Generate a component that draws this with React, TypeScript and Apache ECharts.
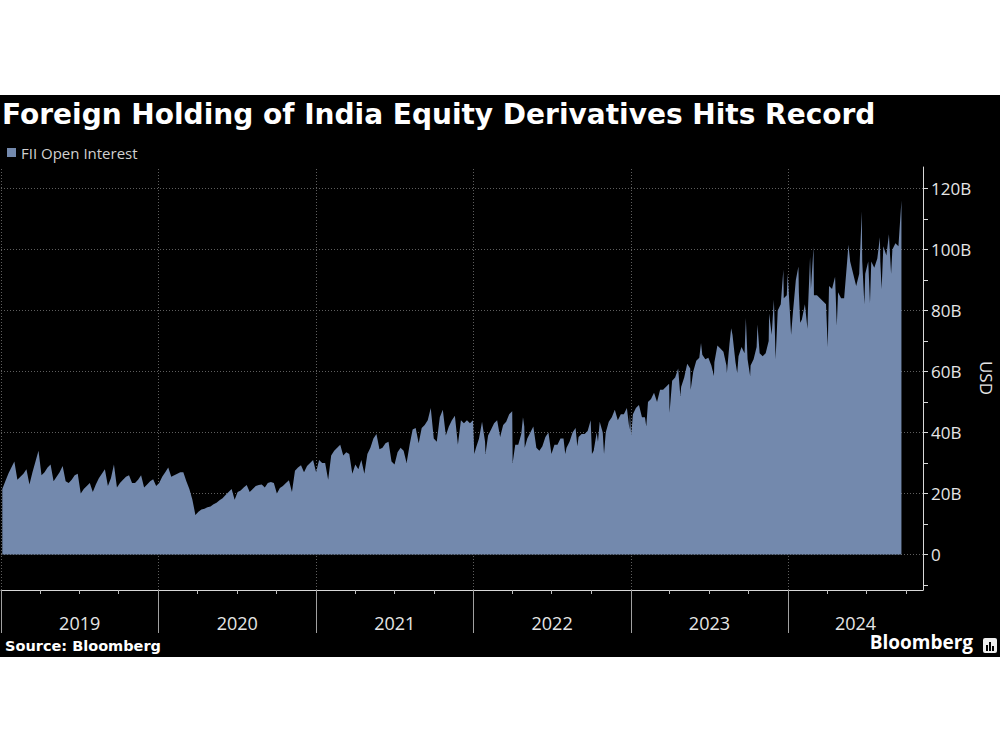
import React, { useEffect, useRef } from "react";
import * as echarts from "echarts";

const TITLE = "Foreign Holding of India Equity Derivatives Hits Record";
const SERIES_NAME = "FII Open Interest";
const SOURCE = "Source: Bloomberg";
const Y_UNIT = "USD";
const FONT = "'Open Sans', 'DejaVu Sans', sans-serif";
const TITLE_FONT = "'DejaVu Sans', 'Open Sans', sans-serif";
const BAR_COLOR = "#7389ad";

const yearLabels = [2019, 2020, 2021, 2022, 2023, 2024];
// first weekly observation (Friday) of each year
const weekStarts = ["2019-01-04", "2020-01-03", "2021-01-01", "2022-01-07", "2023-01-06", "2024-01-05"];
const axisStart = "2019-01-01";
const axisEnd = "2024-11-09";

// weekly FII open interest, USD billions
const weekly2019 = [21.5, 24, 26.5, 28.5, 30.5, 24.5, 25.5, 26.5, 28, 23, 27, 30.5, 34, 26, 27, 28.5, 29.5, 24, 25.5, 27, 29, 24, 23.5, 24.5, 26, 26.5, 20, 21.5, 22.5, 23.5, 20.5, 23, 25, 26.5, 28, 22.5, 25, 29.5, 22, 23.5, 24.5, 25.5, 26, 23.5, 23.5, 24.5, 26, 22, 23, 24, 24.7, 22.5];
const weekly2020 = [23.5, 25.5, 27, 28.5, 25.5, 26, 26.5, 27, 27, 24, 21.5, 18, 13, 14, 14.8, 15, 15.5, 15.8, 16.5, 17, 17.8, 18.5, 19.5, 20.5, 21.5, 18, 20.5, 21, 22, 22.8, 20.5, 21.5, 22.5, 22.8, 23, 22, 23.5, 23.8, 23.5, 20, 21.8, 22.5, 23.5, 24.4, 20.5, 27.5, 28.5, 29.3, 27, 29, 30, 31];
const weekly2021 = [27, 31, 30, 30, 24.5, 32.5, 34, 35, 36, 32.5, 33.5, 33, 26.5, 29.5, 28, 31, 26.5, 33, 35, 38, 39.5, 34.5, 35, 36.5, 37, 30.5, 29.5, 33.5, 35, 34, 30, 36, 41, 41.5, 36.5, 41.5, 42.5, 44, 48, 38, 37, 45, 47.5, 39, 42, 44, 45.5, 36, 44, 43, 44, 43, 44];
const weekly2022 = [35, 38, 43.5, 37, 39, 41, 43, 44, 38.5, 42.5, 43.5, 46, 47, 36, 36, 39.5, 42, 38, 40, 42, 35, 34, 35.5, 38.5, 40, 33, 36, 36, 38, 38, 35, 37, 40, 41.5, 38.5, 39.5, 39.5, 40.5, 44, 34, 40, 43.5, 40, 40, 43.5, 45, 47.5, 44, 46, 46, 48, 46];
const weekly2023 = [46, 48, 49, 45, 45, 50, 51, 53, 50, 54, 54, 55, 56, 57, 58, 61, 55, 58, 62.5, 61, 60, 63.5, 64.5, 65.5, 64, 64.5, 62, 63, 68.5, 67.5, 66.5, 62, 69, 72, 63, 65, 68, 66, 64, 62, 64, 68, 66, 65, 66, 70, 72, 75, 80, 82, 84, 85];
const weekly2024 = [80, 79, 90, 86, 77, 82, 80, 87, 85, 85, 84, 83, 82, 88, 87, 91, 86, 84, 84, 96, 96, 92, 88, 92, 96, 92, 96, 96, 94, 97, 96, 101, 98, 102, 100, 102, 101, 116];

// single-day spikes / dips: [week position within year, value]
const spikes2019: [number, number][] = [];
const spikes2020: [number, number][] = [];
const spikes2021: [number, number][] = [];
const spikes2022: [number, number][] = [[-0.6, 33], [3.1, 33], [12.2, 30], [15.6, 45], [16.1, 35], [29.6, 33], [33.5, 35.5], [38.4, 33], [40.4, 37], [42.4, 33], [50.8, 41]];
const spikes2023: [number, number][] = [[-0.6, 39], [4.4, 42], [12.2, 46.5], [15.7, 52], [19.2, 54], [22.5, 69.3], [26.9, 58.5], [31.1, 59.5], [32.5, 74.2], [34.6, 59.5], [37.4, 77.5], [38.8, 58.5], [41.3, 75.4], [45.2, 79], [46.7, 83.5], [47.3, 64], [49.9, 93.3], [51.3, 92]];
const spikes2024: [number, number][] = [[0.4, 72], [2.9, 94.4], [3.4, 76], [5.8, 74], [6.7, 97.5], [7.8, 100.8], [12.6, 68], [15.6, 75], [19.4, 101.5], [23.9, 112.5], [24.7, 82], [26.6, 82.4], [29.9, 104], [30.4, 87], [32.8, 105], [33.5, 92]];

const yTickValues = [-10, 0, 10, 20, 30, 40, 50, 60, 70, 80, 90, 100, 110, 120];
const yLabelValues = [0, 20, 40, 60, 80, 100, 120];

const DAY = 86400000;
const ts = (s: string) => {
  const [y, m, d] = s.split("-").map(Number);
  return Date.UTC(y, m - 1, d);
};

function buildData(): [number, number][] {
  const weekly = [weekly2019, weekly2020, weekly2021, weekly2022, weekly2023, weekly2024];
  const spikes = [spikes2019, spikes2020, spikes2021, spikes2022, spikes2023, spikes2024];
  const pts: [number, number][] = [];
  weekly.forEach((arr, k) => {
    const t0 = ts(weekStarts[k]);
    arr.forEach((v, i) => pts.push([t0 + i * 7 * DAY, v]));
    spikes[k].forEach(([idx, v]) => pts.push([t0 + Math.round(idx * 7) * DAY, v]));
  });
  pts.sort((a, b) => a[0] - b[0]);
  return pts;
}

export default function App() {
  const ref = useRef<HTMLDivElement>(null);
  useEffect(() => {
    if (!ref.current) return;
    const chart = echarts.init(ref.current, undefined, { renderer: "svg" });
    const minT = ts(axisStart);
    const maxT = ts(axisEnd);
    const yearStarts = yearLabels.map((y) => Date.UTC(y, 0, 1));
    const yearMids = yearLabels.map((y) => {
      const a = Date.UTC(y, 0, 1);
      const b = Math.min(Date.UTC(y + 1, 0, 1), maxT);
      return (a + b) / 2;
    });
    const quarterTicks: number[] = [];
    yearLabels.forEach((y) => {
      [3, 6, 9].forEach((m) => {
        const t = Date.UTC(y, m, 1);
        if (t < maxT) quarterTicks.push(t);
      });
    });

    chart.setOption({
      animation: false,
      backgroundColor: "transparent",
      textStyle: { fontFamily: FONT },
      title: {
        text: TITLE,
        left: 2,
        top: 100,
        padding: 0,
        textStyle: { color: "#ffffff", fontSize: 28, fontWeight: "bold", fontFamily: TITLE_FONT },
      },
      legend: {
        left: 7,
        top: 145,
        padding: 0,
        itemWidth: 9,
        itemHeight: 9,
        icon: "rect",
        textStyle: { color: "#d0d0d0", fontSize: 15, fontFamily: FONT },
        data: [SERIES_NAME],
      },
      grid: {
        left: 1,
        right: 77,
        top: 167,
        bottom: 160,
        containLabel: false,
        outerBoundsMode: "none",
      },
      xAxis: [
        {
          type: "value",
          min: minT,
          max: maxT,
          position: "bottom",
          axisLine: { show: true, onZero: false, lineStyle: { color: "#d8d8d8", width: 1 } },
          axisTick: { show: true, customValues: yearStarts, length: 43, lineStyle: { color: "#a0a0a0" } },
          axisLabel: {
            show: true,
            customValues: yearMids,
            formatter: (v: number) => String(new Date(v).getUTCFullYear()),
            color: "#e6e6e6",
            fontSize: 18,
            margin: 24,
            hideOverlap: false,
          },
          splitLine: { show: false },
        },
        {
          type: "value",
          min: minT,
          max: maxT,
          position: "bottom",
          axisLine: { show: false, onZero: false },
          axisTick: { show: true, customValues: quarterTicks, length: 4, lineStyle: { color: "#c0c0c0" } },
          axisLabel: { show: false },
          splitLine: { show: false },
        },
      ],
      yAxis: {
        type: "value",
        position: "right",
        min: -11.6,
        max: 127,
        axisLine: { show: true, onZero: false, lineStyle: { color: "#d8d8d8" } },
        axisTick: { show: true, customValues: yTickValues, length: 5, lineStyle: { color: "#d8d8d8" } },
        axisLabel: {
          customValues: yLabelValues,
          formatter: (v: number) => (v === 0 ? "0" : v + "B"),
          color: "#e6e6e6",
          fontSize: 17,
          margin: 8,
        },
        splitLine: { show: false },
      },
      series: [
        {
          name: SERIES_NAME,
          type: "line",
          data: buildData(),
          showSymbol: false,
          symbol: "none",
          lineStyle: { width: 0 },
          itemStyle: { color: BAR_COLOR },
          areaStyle: { color: BAR_COLOR, opacity: 1 },
          z: 3,
          markLine: {
            silent: true,
            z: 1,
            symbol: ["none", "none"],
            label: { show: false },
            emphasis: { disabled: true },
            lineStyle: { type: [1, 2], color: "#5e5e5e", width: 1 },
            data: [
              ...yLabelValues.map((v) => ({ yAxis: v })),
              ...yearStarts.map((t) => ({ xAxis: t })),
            ],
          },
        },
      ],
      graphic: [
        {
          type: "text",
          x: 986,
          y: 378,
          rotation: -Math.PI / 2,
          style: {
            text: Y_UNIT,
            fill: "#e6e6e6",
            font: `17px ${FONT}`,
            align: "center",
            verticalAlign: "middle",
          },
        },
        {
          type: "text",
          left: 5,
          top: 638,
          style: { text: SOURCE, fill: "#ffffff", font: `bold 14.5px ${TITLE_FONT}` },
        },
        {
          type: "text",
          right: 27,
          top: 632,
          style: { text: "Bloomberg", fill: "#ffffff", font: `bold 19px ${FONT}` },
        },
        {
          type: "group",
          left: 983,
          top: 638,
          children: [
            { type: "rect", shape: { x: 0, y: 0, width: 14, height: 15, r: 2 }, style: { fill: "#eeeeee" } },
            { type: "rect", shape: { x: 3, y: 7, width: 2, height: 6 }, style: { fill: "#000" } },
            { type: "rect", shape: { x: 6, y: 4, width: 2, height: 9 }, style: { fill: "#000" } },
            { type: "rect", shape: { x: 9, y: 8, width: 2, height: 5 }, style: { fill: "#000" } },
          ],
        },
      ],
    });
    return () => chart.dispose();
  }, []);

  return (
    <div
      ref={ref}
      style={{
        position: "fixed",
        left: 0,
        top: 0,
        width: 1000,
        height: 750,
        background:
          "linear-gradient(to bottom, #ffffff 0px, #ffffff 95px, #000000 95px, #000000 657px, #ffffff 657px, #ffffff 750px)",
      }}
    />
  );
}
